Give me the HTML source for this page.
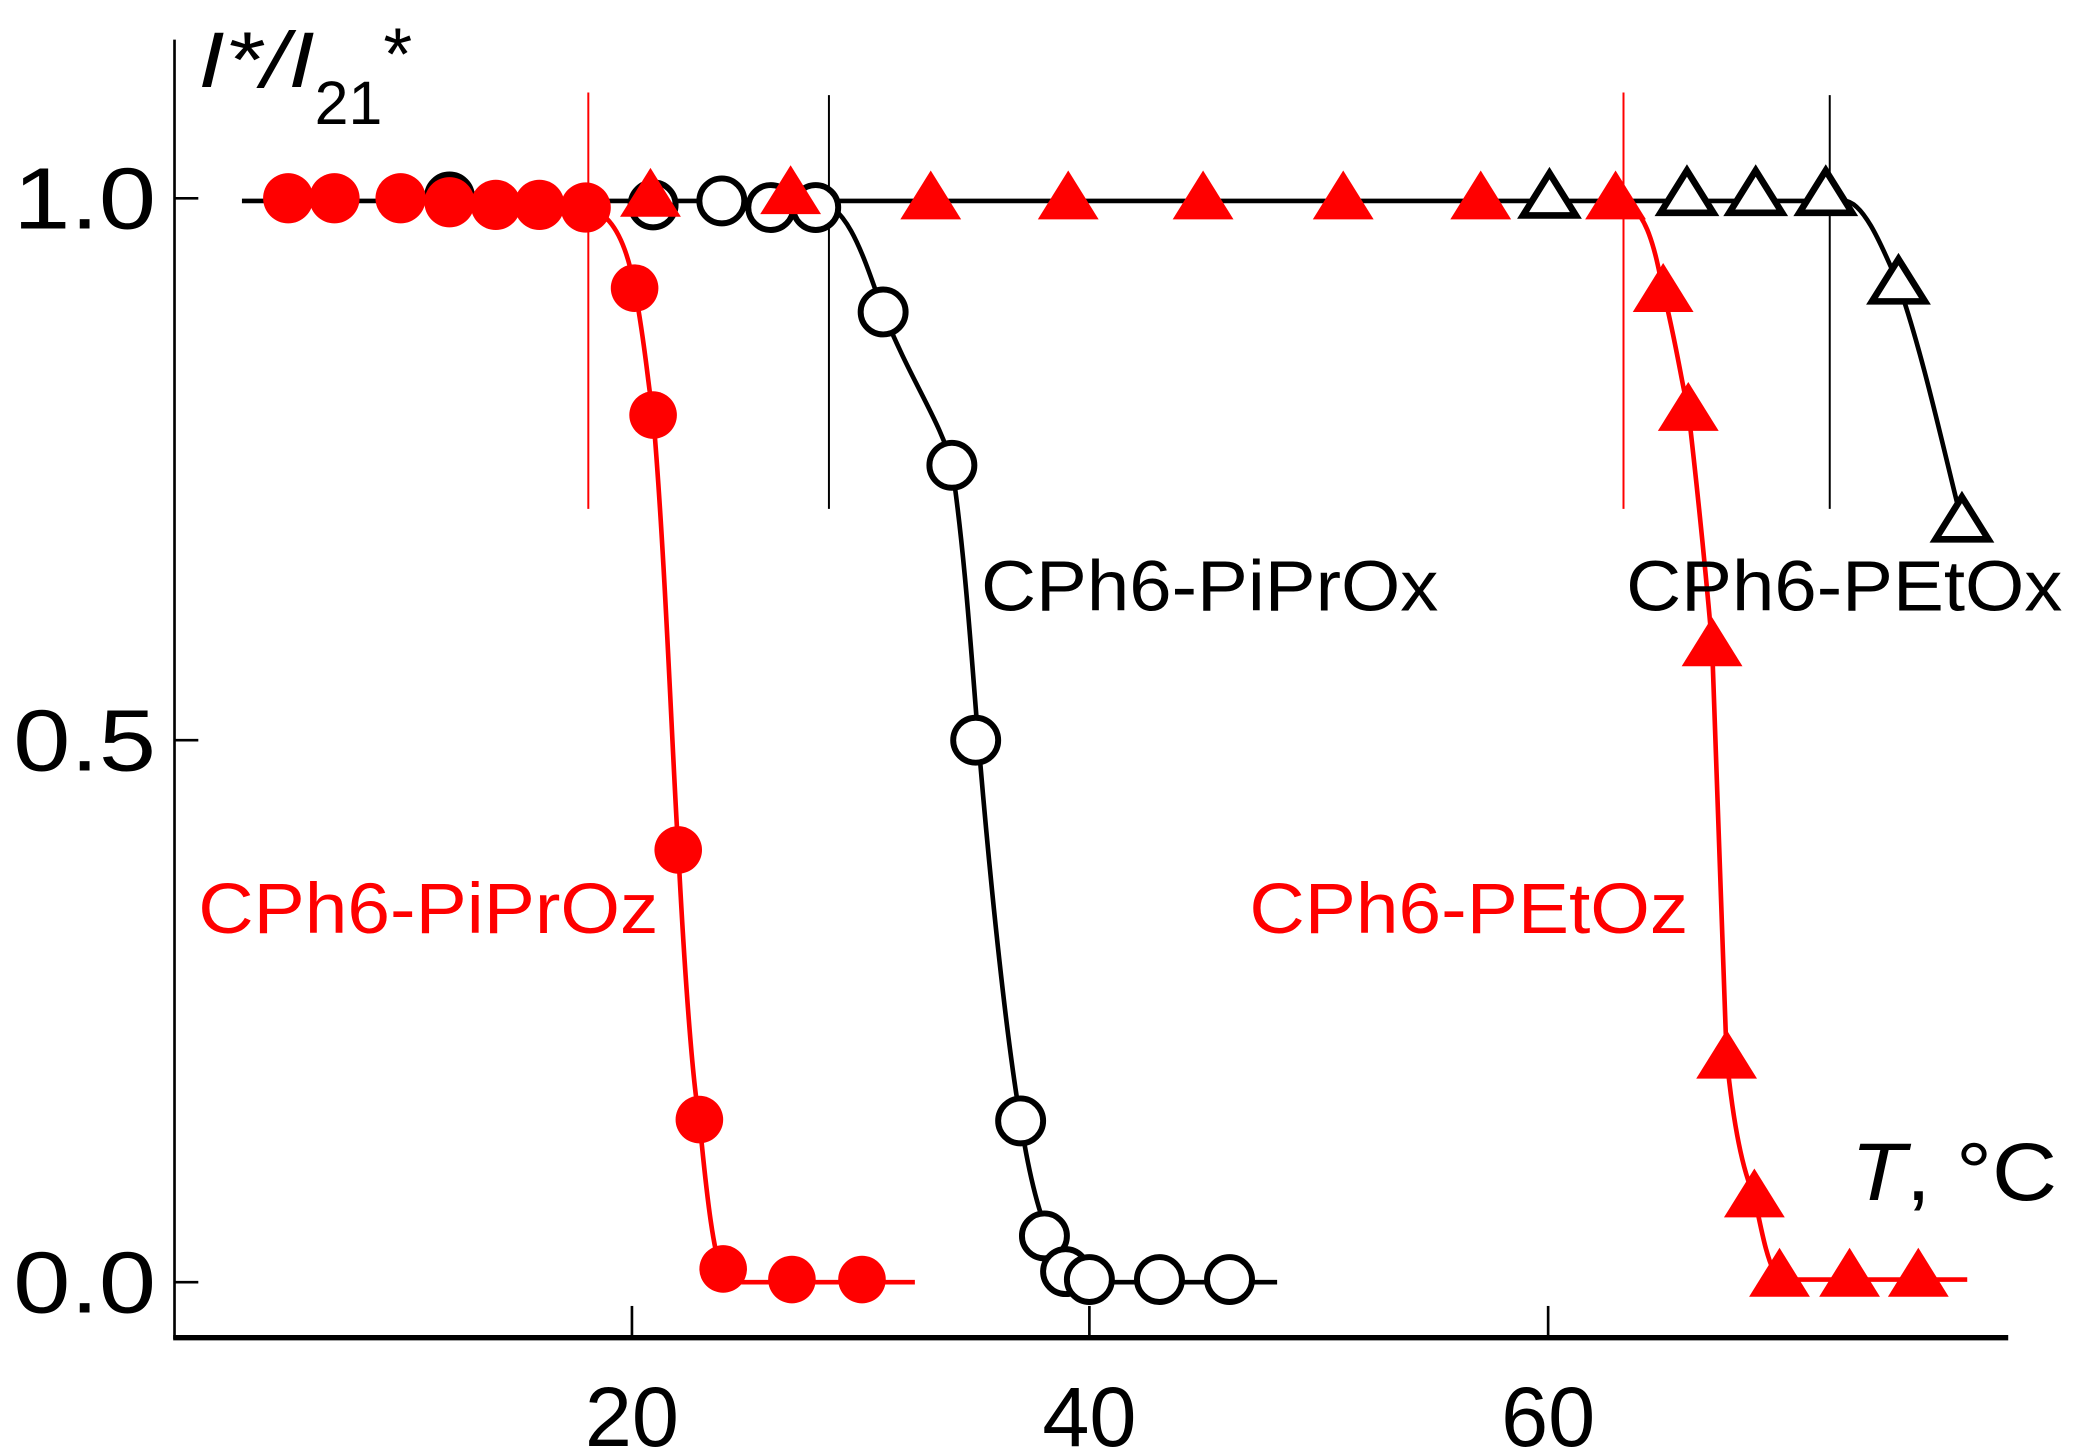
<!DOCTYPE html>
<html><head><meta charset="utf-8"><style>
html,body{margin:0;padding:0;background:#fff;}
svg{display:block;}
text{font-family:"Liberation Sans",Arial,sans-serif;}
</style></head><body>
<svg width="2073" height="1454" viewBox="0 0 1568 1100" preserveAspectRatio="none" xmlns="http://www.w3.org/2000/svg">
<rect width="1568" height="1100" fill="#fff"/>
<line x1="132" y1="30" x2="132" y2="1013" stroke="#000" stroke-width="2"/>
<line x1="131" y1="1012" x2="1519" y2="1012" stroke="#000" stroke-width="4"/>
<g stroke="#000" stroke-width="2">
<line x1="132" y1="150" x2="150" y2="150"/><line x1="132" y1="560" x2="150" y2="560"/><line x1="132" y1="970" x2="150" y2="970"/>
<line x1="478" y1="1012" x2="478" y2="988"/><line x1="824" y1="1012" x2="824" y2="988"/><line x1="1171" y1="1012" x2="1171" y2="988"/>
</g>
<g font-size="66">
<text x="10" y="173" textLength="108" lengthAdjust="spacingAndGlyphs">1.0</text>
<text x="10" y="583" textLength="108" lengthAdjust="spacingAndGlyphs">0.5</text>
<text x="10" y="993" textLength="108" lengthAdjust="spacingAndGlyphs">0.0</text>
</g>
<g font-size="64" text-anchor="middle">
<text x="478" y="1094">20</text><text x="824" y="1094">40</text><text x="1171" y="1094">60</text>
</g>
<text x="150" y="66" font-size="60" font-style="italic" textLength="88" lengthAdjust="spacingAndGlyphs">I*/I</text>
<text x="238" y="94" font-size="46">21</text>
<text x="290" y="60" font-size="56">*</text>
<text x="1400" y="908" font-size="62" textLength="156" lengthAdjust="spacingAndGlyphs"><tspan font-style="italic">T</tspan>, °C</text>
<line x1="445" y1="70" x2="445" y2="385" stroke="#f00" stroke-width="1.5"/>
<line x1="627" y1="72" x2="627" y2="385" stroke="#000" stroke-width="1.5"/>
<line x1="1228" y1="70" x2="1228" y2="385" stroke="#f00" stroke-width="1.5"/>
<line x1="1384" y1="72" x2="1384" y2="385" stroke="#000" stroke-width="1.5"/>
<path d="M183,152 L615,152 C640,152 652,190 668,236 C690,290 712,320 720,352 C730,420 735,500 740,560 C750,680 762,790 772,848 C780,900 790,935 806,960 C815,968 820,970 830,970 L966,970" fill="none" stroke="#000" stroke-width="3.5"/>
<path d="M615,152 L1395,152 C1410,152 1425,190 1436,215 C1455,270 1470,340 1484,395" fill="none" stroke="#000" stroke-width="3.5"/>
<path d="M443,157 C465,160 475,190 480,218 C488,260 490,290 494,314 C503,420 508,560 513,643 C518,740 524,820 529,847 C535,910 540,950 547,965 C552,970 556,970 565,970 L692,970" fill="none" stroke="#f00" stroke-width="3.5"/>
<path d="M1222,152 C1245,152 1252,190 1258,220 C1268,260 1272,290 1277,310 C1285,380 1290,430 1295,488 C1300,650 1303,740 1306,800 C1312,860 1320,890 1327,905 C1333,935 1338,960 1346,968 L1488,968" fill="none" stroke="#f00" stroke-width="3.5"/>
<g fill="#fff" stroke="#000" stroke-width="4.5">
<circle cx="340" cy="149" r="17"/><circle cx="494" cy="155" r="17"/><circle cx="546" cy="152" r="17"/><circle cx="583" cy="157" r="17"/><circle cx="617" cy="157" r="17"/>
<circle cx="668" cy="236" r="17"/><circle cx="720" cy="352" r="17"/><circle cx="738" cy="560" r="17"/><circle cx="772" cy="848" r="17"/><circle cx="790" cy="935" r="17"/><circle cx="806" cy="962" r="17"/><circle cx="824" cy="968" r="17"/><circle cx="877" cy="968" r="17"/><circle cx="930" cy="968" r="17"/>
</g>
<g fill="#f00">
<circle cx="218" cy="150" r="19"/><circle cx="253" cy="150" r="19"/><circle cx="303" cy="150" r="19"/><circle cx="340" cy="153" r="19"/><circle cx="375" cy="155" r="19"/><circle cx="408" cy="155" r="19"/><circle cx="443" cy="157" r="19"/>
<circle cx="480" cy="218" r="18"/><circle cx="494" cy="314" r="18"/><circle cx="513" cy="643" r="18"/><circle cx="529" cy="847" r="18"/><circle cx="547" cy="960" r="18"/><circle cx="599" cy="968" r="18"/><circle cx="652" cy="968" r="18"/>
</g>
<g fill="#fff" stroke="#000" stroke-width="5" stroke-linejoin="miter">
<path d="M1172,131 L1192,163 L1152,163 Z"/><path d="M1276,129 L1296,161 L1256,161 Z"/><path d="M1328,129 L1348,161 L1308,161 Z"/><path d="M1381,129 L1401,161 L1361,161 Z"/>
<path d="M1436,196 L1456,228 L1416,228 Z"/><path d="M1484,376 L1504,408 L1464,408 Z"/>
</g>
<g fill="#f00">
<path d="M492,127 L515,164 L469,164 Z"/><path d="M598,125 L621,162 L575,162 Z"/><path d="M704,129 L727,166 L681,166 Z"/><path d="M808,129 L831,166 L785,166 Z"/><path d="M910,129 L933,166 L887,166 Z"/><path d="M1016,129 L1039,166 L993,166 Z"/><path d="M1120,129 L1143,166 L1097,166 Z"/><path d="M1222,129 L1245,166 L1199,166 Z"/>
<path d="M1258,199 L1281,236 L1235,236 Z"/><path d="M1277,289 L1300,326 L1254,326 Z"/><path d="M1295,467 L1318,504 L1272,504 Z"/><path d="M1306,779 L1329,816 L1283,816 Z"/><path d="M1327,884 L1350,921 L1304,921 Z"/><path d="M1346,944 L1369,981 L1323,981 Z"/><path d="M1399,944 L1422,981 L1376,981 Z"/><path d="M1451,944 L1474,981 L1428,981 Z"/>
</g>
<text x="742" y="462" font-size="54" textLength="346" lengthAdjust="spacingAndGlyphs">CPh6-PiPrOx</text>
<text x="1230" y="462" font-size="54" textLength="330" lengthAdjust="spacingAndGlyphs">CPh6-PEtOx</text>
<text x="150" y="706" font-size="54" fill="#f00" textLength="348" lengthAdjust="spacingAndGlyphs">CPh6-PiPrOz</text>
<text x="945" y="706" font-size="54" fill="#f00" textLength="332" lengthAdjust="spacingAndGlyphs">CPh6-PEtOz</text>
</svg>
</body></html>
